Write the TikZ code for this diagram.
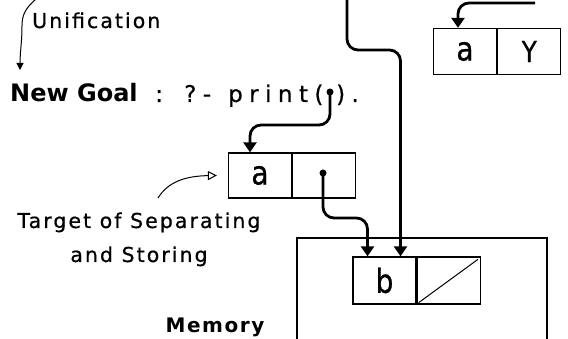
\documentclass[tikz,border=0pt]{standalone}
\usepackage{fontspec}
\setmainfont{DejaVu Sans}
\newfontfamily\spaced[LetterSpace=10,FakeBold=0.6]{DejaVu Sans}
\newfontfamily\widespaced[LetterSpace=28,FakeBold=0.6]{DejaVu Sans}
\newfontfamily\boldlabel[LetterSpace=8]{DejaVu Sans Bold}
\newfontfamily\cellfont[FakeStretch=0.85,FakeBold=0.8]{DejaVu Sans}
\usetikzlibrary{arrows.meta}

\begin{document}
\begin{tikzpicture}[x=1pt,y=-1pt,
  cell/.style={draw, line width=1.3pt, minimum width=63pt, minimum height=46pt,
    inner sep=0pt, font=\cellfont\fontsize{33}{35}\selectfont},
  conn/.style={line width=2.8pt, rounded corners=11pt,
    -{Triangle[width=13pt,length=10pt]}},
  thinarrow/.style={line width=1pt},
  dot/.style={circle, fill, inner sep=0pt, minimum size=7pt},
  label/.style={inner sep=0pt, font=\spaced\fontsize{20.5}{24}\selectfont},
  goaltext/.style={inner sep=0pt, font=\widespaced\fontsize{23}{28}\selectfont},
  memline/.style={line width=1.3pt}]

\fill[white] (0,0) rectangle (568,339);
\useasboundingbox (0,0) rectangle (568,339);

% cons cells
\node[cell] (tra) at (465,51.5) {a};
\node[cell, anchor=west, font=\cellfont\fontsize{29}{31}\selectfont] (trY) at (tra.east) {Y};

\node[cell, minimum height=45pt] (ma) at (260,175.5) {a};
\node[cell, minimum height=45pt, anchor=west] (mb) at (ma.east) {};

% memory area
\draw[memline] (297,339) -- (297,238) -- (547,238) -- (547,339);
\node[cell, minimum height=47pt] (bb) at (384.5,280.5) {b};
\node[cell, minimum height=47pt, anchor=west] (bn) at (bb.east) {};
\draw[line width=1pt] ([shift={(2,-2)}]bn.south west) -- ([shift={(-3,3)}]bn.north east);

% texts
\node[label, anchor=base west] (uni) at (32,28) {Unification};
\node[anchor=base west, inner sep=0pt, font=\bfseries\fontsize{24}{28}\selectfont] (goal) at (10,102) {New Goal};
\node[goaltext, anchor=base west] (colon) at (155,102) {:};
\node[goaltext, anchor=base west] (query) at (184,102) {?-};
\node[goaltext, anchor=base west] (call) at (228,102) {print(};
\node[goaltext, anchor=base west] (close) at (336,102) {).};
\node[label, anchor=base] (tgt1) at (139,228) {Target of Separating};
\node[label, anchor=base] (tgt2) at (139,262) {and Storing};
\node[anchor=base, inner sep=0pt, font=\boldlabel\fontsize{20}{24}\selectfont] (mem) at (215,332) {Memory};

% pointers
\node[dot] (pdot) at (330,92) {};
\node[dot] (mbdot) at (323,173) {};
\coordinate (rtop) at (535,3);
\coordinate (ltop) at (347,-3);

\draw[conn] (rtop) -| ([xshift=-7]tra.north);
\draw[conn] (ltop) -- ++(0,53) -| ([xshift=16]bb.north);
\draw[conn] (pdot.center) -- ++(0,33) -| ([xshift=-10]ma.north);
\draw[conn] (mbdot.center) -- ++(0,45) -| ([xshift=-17]bb.north);

% annotation arrows
\coordinate (utop) at (36,-1);
\coordinate (utip) at (20,70);
\draw[thinarrow, -{Triangle[width=7pt,length=7pt]}]
  (utop) .. controls (26,8) and (22,14) .. (22,26)
         .. controls (22,42) and (20,52) .. (utip);
\coordinate (tstart) at (158,198);
\draw[thinarrow, -{Triangle[open,width=9pt,length=9pt]}]
  (tstart) .. controls (168,182) and (185,176) .. ([xshift=-11]ma.west);
\end{tikzpicture}
\end{document}
